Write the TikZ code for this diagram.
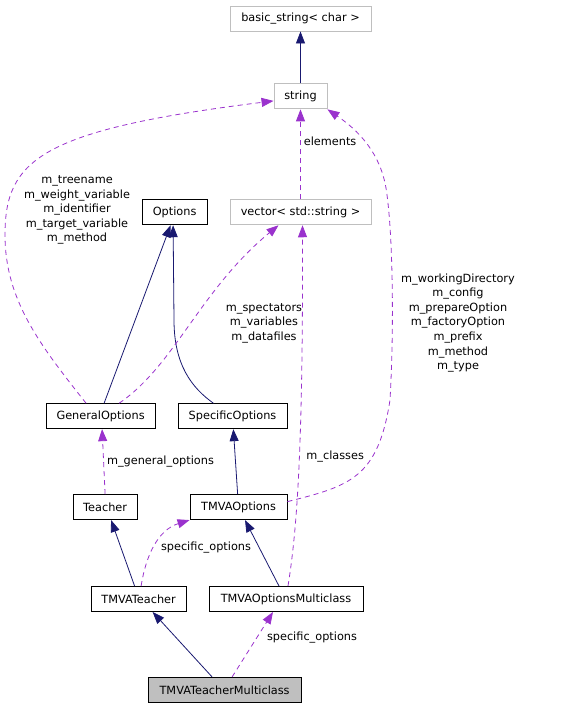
\documentclass[tikz,border=0pt]{standalone}
\usepackage{fontspec}
\setmainfont{DejaVu Sans}
\usepackage{xcolor}
\usepackage{tikz}
\usetikzlibrary{arrows.meta, positioning}

\definecolor{navy}{HTML}{191970}
\definecolor{orchid}{HTML}{9A32CD}
\definecolor{grayline}{HTML}{BFBFBF}

\begin{document}
\begin{tikzpicture}[
    x=1pt, y=1pt,
    font=\fontsize{11.3}{14.6}\selectfont,
    % Estilos de nodos
    cls/.style={rectangle, draw=black, line width=0.9pt, fill=white, text centered, minimum height=25pt, inner xsep=4pt, inner ysep=0pt},
    ext/.style={cls, draw=grayline},
    focus/.style={cls, fill=grayline},
    inherit/.style={-{Triangle[length=12pt, width=9pt]}, navy, line width=0.8pt},
    usage/.style={-{Triangle[length=12pt, width=9pt]}, orchid, line width=0.8pt, dash pattern=on 5pt off 4pt},
    lbl/.style={text=black, align=center, inner sep=1pt}
]
\useasboundingbox (0,0) rectangle (586,-704);

% Fila 1: cadenas
\node[ext, minimum width=141pt] (basic) at (300.5,-18.5) {basic\_string< char >};
\node[ext, minimum width=53pt, below=52pt of basic] (str) {string};

% Fila 2: opciones y vector
\node[ext, minimum width=141pt, below=90pt of str] (vec) {vector< std::string >};
\node[cls, minimum width=65pt, left=22pt of vec] (options) {Options};

% Fila 3
\node[cls, minimum width=109pt, below=178pt of options, xshift=-74pt] (general) {GeneralOptions};
\node[cls, minimum width=109pt, right=22pt of general] (specific) {SpecificOptions};

% Fila 4
\node[cls, minimum width=64pt, below=65pt of general, xshift=4.5pt] (teacher) {Teacher};
\node[cls, minimum width=97pt, below=65pt of specific, xshift=6pt] (tmvaopts) {TMVAOptions};

% Fila 5
\node[cls, minimum width=95pt, below=66pt of teacher, xshift=33.5pt] (tmvateacher) {TMVATeacher};
\node[cls, minimum width=154pt, right=22pt of tmvateacher] (tmvaoptsmc) {TMVAOptionsMulticlass};

% Clase principal
\node[focus, minimum width=153pt, below=65pt of tmvateacher, xshift=86pt] (tmvateachermc) {TMVATeacherMulticlass};

% Herencia
\draw[inherit] (str) -- (basic);
\draw[inherit] ([xshift=3.5pt]general.north) -- ([xshift=-4pt]options.south);
\draw[inherit] ([xshift=-19pt]specific.north) .. controls (192,-388) and (174,-365) .. (174,-320) -- ([xshift=-1.5pt]options.south);
\draw[inherit] (tmvaopts) -- (specific);
\draw[inherit] ([xshift=-4pt]tmvateacher.north) -- ([xshift=6pt]teacher.south);
\draw[inherit] ([xshift=-7pt]tmvaoptsmc.north) -- ([xshift=6.5pt]tmvaopts.south);
\draw[inherit] ([xshift=-12.5pt]tmvateachermc.north) -- ([xshift=14pt]tmvateacher.south);

% Miembros
\draw[usage] (vec) -- (str) node[lbl, pos=0.64, right, xshift=2pt] {elements};
\draw[usage] ([xshift=-14.5pt]general.north) .. controls (40,-345) and (5,-300) .. (5,-235)
    .. controls (5,-160) and (40,-130) .. ([yshift=-4.5pt]str.west)
    node[lbl] at (77,-210) {m\_treename\\m\_weight\_variable\\m\_identifier\\m\_target\_variable\\m\_method};
\draw[usage] ([xshift=18.5pt]general.north) .. controls (175,-365) and (200,-290) .. ([xshift=-22pt]vec.south)
    node[lbl] at (264,-323) {m\_spectators\\m\_variables\\m\_datafiles};
\draw[usage] (teacher.north) -- ([xshift=1.5pt]general.south) node[lbl, midway, right, xshift=2pt] {m\_general\_options};
\draw[usage] ([yshift=5.5pt]tmvaopts.east) .. controls (350,-486) and (378,-478) .. (390,-400)
    .. controls (394,-330) and (393,-240) .. (387,-195)
    .. controls (383,-160) and (365,-135) .. (str.south east)
    node[lbl] at (458,-323) {m\_workingDirectory\\m\_config\\m\_prepareOption\\m\_factoryOption\\m\_prefix\\m\_method\\m\_type};
\draw[usage] ([xshift=2pt]tmvaoptsmc.north) .. controls (297,-530) and (303,-450) .. ([xshift=2pt]vec.south)
    node[lbl, anchor=west] at (305,-457) {m\_classes};
\draw[usage] ([xshift=2.5pt]tmvateacher.north) .. controls (146,-555) and (158,-530) .. (tmvaopts.south west)
    node[lbl] at (206,-548) {specific\_options};
\draw[usage] ([xshift=7.5pt]tmvateachermc.north) -- ([xshift=-13pt]tmvaoptsmc.south)
    node[lbl] at (312,-638) {specific\_options};

\end{tikzpicture}
\end{document}
